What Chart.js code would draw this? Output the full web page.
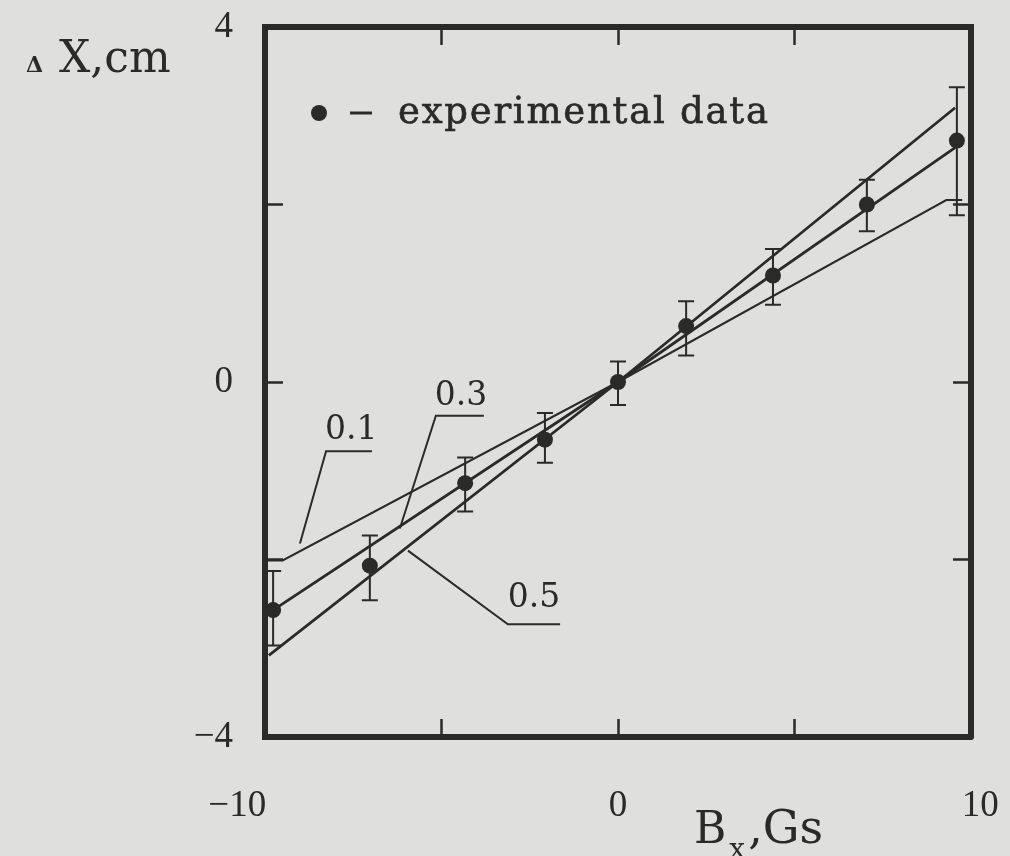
<!DOCTYPE html>
<html>
<head>
<meta charset="utf-8">
<script src="https://cdn.jsdelivr.net/npm/chart.js@4.4.1/dist/chart.umd.min.js"></script>
<style>
  html, body { margin: 0; padding: 0; background: #dfdfdd; }
  #wrap { width: 1010px; height: 856px; }
</style>
</head>
<body>
<div id="wrap"><canvas id="grafico" width="1010" height="856"></canvas></div>
<script>
// --- datos ---
const bxExp = [-9.77, -7.03, -4.33, -2.07, 0, 1.93, 4.39, 7.05, 9.6];
const dxExp = [-2.57, -2.07, -1.14, -0.65, 0, 0.63, 1.20, 2.00, 2.72];
const errSup = [-2.13, -1.73, -0.85, -0.35, 0.23, 0.91, 1.50, 2.28, 3.32];
const errInf = [-2.97, -2.46, -1.46, -0.91, -0.26, 0.30, 0.87, 1.70, 1.88];

const curva01X = [-10, -9.5, 0, 9.3, 9.75];
const curva01Y = [-2.01, -2.01, 0, 2.05, 2.05];
const curva03X = [-9.77, 0, 9.55];
const curva03Y = [-2.57, 0, 2.64];
const curva05X = [-9.89, 0, 9.55];
const curva05Y = [-3.08, 0, 3.09];

const etiquetasCurvas = ['0.1', '0.3', '0.5'];
const xTicks = [-10, 0, 10];
const yTicks = [-4, 0, 4];

// posicion de las etiquetas y sus lineas guia (en unidades de los ejes)
const posEtiquetas = [
    { texto: [-7.56, -0.54], guia: [[-6.97, -0.78], [-8.27, -0.78], [-9.01, -1.82]] },
    { texto: [-4.45, -0.16], guia: [[-3.80, -0.38], [-5.16, -0.38], [-6.18, -1.65]] },
    { texto: [-2.38, -2.44], guia: [[-1.64, -2.73], [-3.12, -2.73], [-5.95, -1.90]] }
];

const tinta = '#2a2a2a';
const fondo = '#dfdfdd';
const menos = v => (v < 0 ? '\u2212' + Math.abs(v) : String(v));
const puntos = (xs, ys) => xs.map((x, i) => ({ x, y: ys[i] }));

// etiquetas del eje x un poco desplazadas hacia fuera, como en el original
const etiquetaX = v => {
    if (!xTicks.includes(v)) return '';
    if (v < 0) return menos(v) + '\u2002\u2002\u2002';
    if (v > 0) return '\u2002' + menos(v);
    return menos(v);
};

const sinPadding = s => { s.paddingLeft = s.paddingRight = s.paddingTop = s.paddingBottom = 0; };

const fondoPlugin = {
    id: 'fondo',
    beforeDraw(chart) {
        const c = chart.ctx;
        c.save();
        c.fillStyle = fondo;
        c.fillRect(0, 0, chart.width, chart.height);
        c.restore();
    }
};

// barras de error
const barrasPlugin = {
    id: 'barras',
    beforeDatasetsDraw(chart) {
        const c = chart.ctx;
        const sx = chart.scales.x, sy = chart.scales.y;
        c.save();
        c.strokeStyle = tinta;
        c.lineWidth = 2;
        bxExp.forEach((bx, i) => {
            const px = sx.getPixelForValue(bx);
            const top = sy.getPixelForValue(errSup[i]);
            const bot = sy.getPixelForValue(errInf[i]);
            c.beginPath();
            c.moveTo(px, top); c.lineTo(px, bot);
            c.moveTo(px - 8, top); c.lineTo(px + 8, top);
            c.moveTo(px - 8, bot); c.lineTo(px + 8, bot);
            c.stroke();
        });
        c.restore();
    }
};

// textos: etiquetas de curvas, leyenda, titulos de ejes
const textosPlugin = {
    id: 'textos',
    afterDraw(chart) {
        const c = chart.ctx;
        const sx = chart.scales.x, sy = chart.scales.y;
        const area = chart.chartArea;
        c.save();
        c.fillStyle = tinta;
        c.strokeStyle = tinta;

        // etiquetas 0.1 / 0.3 / 0.5
        c.font = '33px "DejaVu Serif"';
        c.textAlign = 'center';
        c.textBaseline = 'middle';
        c.lineWidth = 2;
        posEtiquetas.forEach((e, i) => {
            c.fillText(etiquetasCurvas[i], sx.getPixelForValue(e.texto[0]), sy.getPixelForValue(e.texto[1]));
            c.beginPath();
            e.guia.forEach(([gx, gy], k) => {
                const px = sx.getPixelForValue(gx), py = sy.getPixelForValue(gy);
                if (k === 0) c.moveTo(px, py); else c.lineTo(px, py);
            });
            c.stroke();
        });

        // leyenda
        const lx = area.left + 54, ly = area.top + 86;
        c.beginPath();
        c.arc(lx, ly, 8, 0, Math.PI * 2);
        c.fill();
        c.lineWidth = 3;
        c.beginPath();
        c.moveTo(lx + 31, ly); c.lineTo(lx + 53, ly);
        c.stroke();
        c.font = '37px "DejaVu Serif"';
        c.textAlign = 'left';
        c.textBaseline = 'alphabetic';
        const txt = 'experimental data';
        const ancho = c.measureText(txt).width;
        c.letterSpacing = Math.max(0, (370 - ancho) / (txt.length - 1)) + 'px';
        c.lineWidth = 0.6;
        c.fillText(txt, lx + 79, ly + 10);
        c.strokeText(txt, lx + 79, ly + 10);
        c.letterSpacing = '0px';

        // titulo eje y
        c.font = 'bold 22px "DejaVu Serif"';
        c.fillText('\u0394', 26, 72);
        c.font = '44px "DejaVu Serif"';
        c.fillText('X,cm', 59, 72);

        // titulo eje x
        c.font = '44px "DejaVu Serif"';
        c.fillText('B', 694, 843);
        const wB = c.measureText('B').width;
        c.font = '28px "DejaVu Serif"';
        c.fillText('x', 694 + wB + 3, 858);
        const wx = c.measureText('x').width;
        c.font = '46px "DejaVu Serif"';
        c.fillText(',Gs', 694 + wB + wx + 6, 843);

        c.restore();
    }
};

const ejeBase = {
    type: 'linear',
    grid: { drawOnChartArea: false, drawTicks: true, tickLength: -18, tickWidth: 2.5, tickColor: tinta },
    border: { display: true, width: 6, color: tinta }
};

new Chart(document.getElementById('grafico'), {
    type: 'scatter',
    data: {
        datasets: [
            {
                label: etiquetasCurvas[0],
                data: puntos(curva01X, curva01Y),
                showLine: true, pointRadius: 0, borderColor: tinta, borderWidth: 2, tension: 0
            },
            {
                label: etiquetasCurvas[1],
                data: puntos(curva03X, curva03Y),
                showLine: true, pointRadius: 0, borderColor: tinta, borderWidth: 2.8, tension: 0
            },
            {
                label: etiquetasCurvas[2],
                data: puntos(curva05X, curva05Y),
                showLine: true, pointRadius: 0, borderColor: tinta, borderWidth: 2.8, tension: 0
            },
            {
                label: 'experimental data',
                data: puntos(bxExp, dxExp),
                pointRadius: 8, pointBackgroundColor: tinta, pointBorderWidth: 0
            }
        ]
    },
    options: {
        responsive: false,
        animation: false,
        layout: { padding: 0 },
        plugins: { legend: { display: false }, tooltip: { enabled: false } },
        scales: {
            x: {
                ...ejeBase, position: 'bottom', min: -10, max: 10,
                ticks: {
                    stepSize: 5, autoSkip: false, maxRotation: 0, padding: 65, color: tinta,
                    font: { family: 'Liberation Serif', size: 37 },
                    callback: etiquetaX
                },
                afterFit: s => { s.height = 119; sinPadding(s); }
            },
            x2: {
                ...ejeBase, position: 'top', min: -10, max: 10,
                ticks: { stepSize: 5, display: false },
                afterFit: s => { s.height = 27; sinPadding(s); }
            },
            y: {
                ...ejeBase, position: 'left', min: -4, max: 4,
                ticks: {
                    stepSize: 2, autoSkip: false, padding: 50, color: tinta,
                    font: { family: 'Liberation Serif', size: 37 },
                    callback: v => (yTicks.includes(v) ? menos(v) : '')
                },
                afterFit: s => { s.width = 265; sinPadding(s); }
            },
            y2: {
                ...ejeBase, position: 'right', min: -4, max: 4,
                ticks: { stepSize: 2, display: false },
                afterFit: s => { s.width = 39; sinPadding(s); }
            }
        }
    },
    plugins: [fondoPlugin, barrasPlugin, textosPlugin]
});
</script>
</body>
</html>
